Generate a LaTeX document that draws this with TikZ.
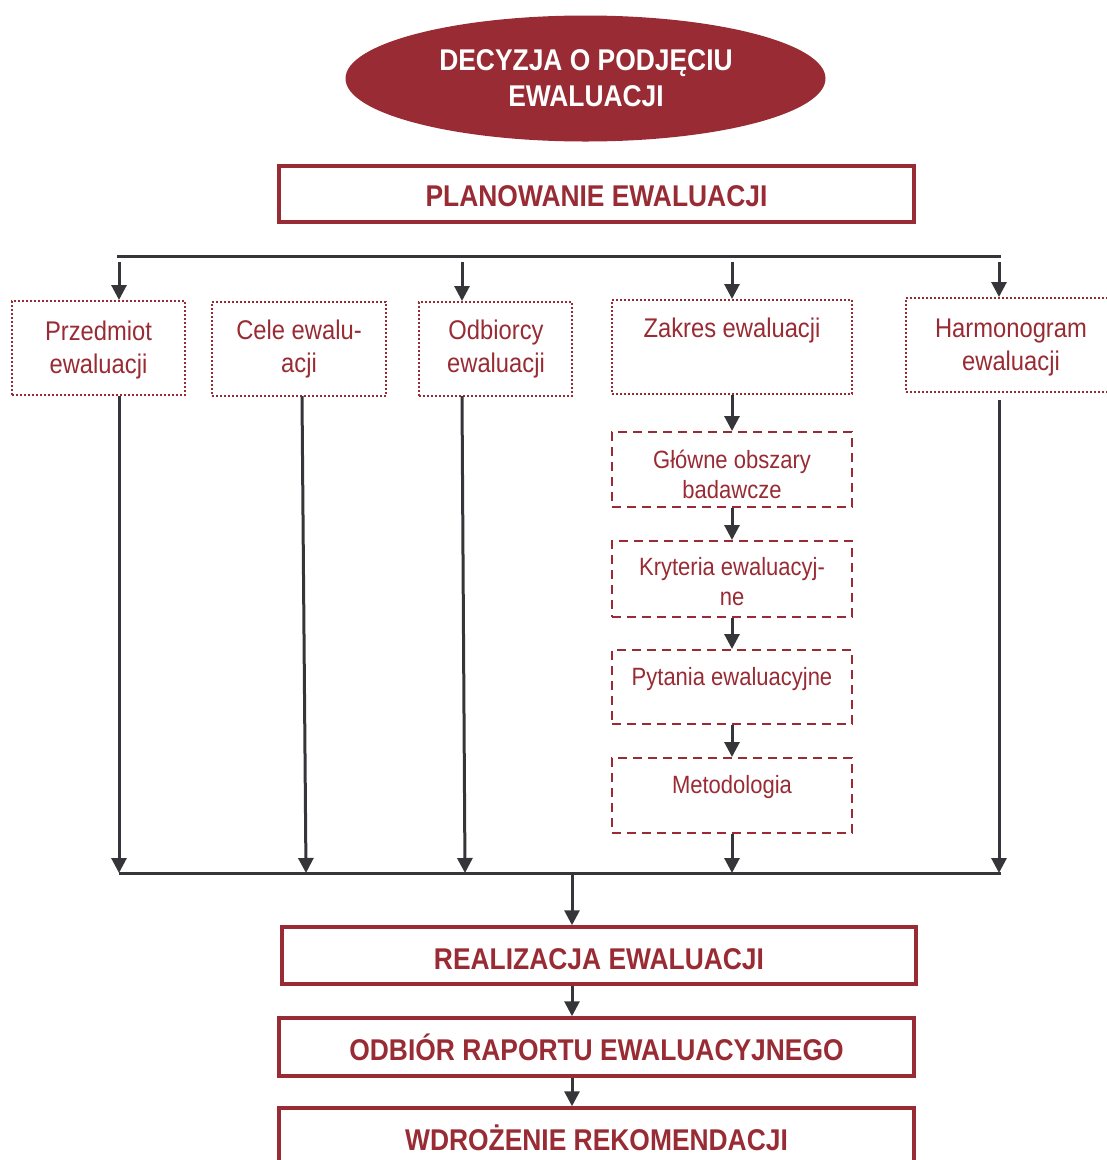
\documentclass[tikz,border=0pt]{standalone}
\usepackage{fontspec}
\setmainfont{Liberation Sans}[FakeStretch=0.88]
\usetikzlibrary{arrows.meta}
\definecolor{wine}{RGB}{152,43,51}
\definecolor{ink}{RGB}{54,54,58}
\tikzset{
  conn/.style={draw=ink, line width=3pt},
  arr/.style={conn, -{Triangle[length=15pt,width=15pt]}},
  stagebox/.style={draw=wine, line width=3.5pt, rectangle, inner sep=0pt},
  topicbox/.style={draw=wine, line width=2pt, dash pattern=on 2pt off 2pt, rectangle, inner sep=0pt},
  partbox/.style={draw=wine, line width=2pt, dash pattern=on 9pt off 6pt, rectangle, inner sep=0pt},
  stagetxt/.style={text=wine, font=\fontsize{30}{36}\selectfont\bfseries, anchor=base, inner sep=0pt},
  topictxt/.style={text=wine, font=\fontsize{27}{33}\selectfont, align=center, anchor=base, inner sep=0pt},
  parttxt/.style={text=wine, font=\fontsize{25}{29.5}\selectfont, align=center, anchor=base, inner sep=0pt},
}
\begin{document}
\begin{tikzpicture}[x=1pt,y=-1pt]
\useasboundingbox (0,0) rectangle (1107,1160);

% decision ellipse (multi-line labels are anchored at their last baseline)
\fill[wine] (585.5,78.5) ellipse [x radius=240, y radius=63];
\node[stagetxt, text=white, align=center] (decision) at (586,106) {DECYZJA O PODJĘCIU\\EWALUACJI};

% planning stage
\node[stagebox, minimum width=635pt, minimum height=56pt] (plan) at (596.5,194) {};
\node[stagetxt] (plan-t) at (596.5,206.5) {PLANOWANIE EWALUACJI};

% distribution bar
\coordinate (tl) at (117,256);
\coordinate (tr) at (1001,256);
\draw[conn] (tl) -- (tr);

% planning topics
\node[topicbox, minimum width=173pt, minimum height=94pt] (subj) at (98.5,348) {};
\node[topicbox, minimum width=174pt, minimum height=94pt] (goals) at (299,349) {};
\node[topicbox, minimum width=153pt, minimum height=94pt] (aud) at (495.5,349) {};
\node[topicbox, minimum width=240pt, minimum height=94pt] (scope) at (732,347) {};
\node[topicbox, minimum width=206pt, minimum height=94pt] (sched) at (1009,345) {};

\node[topictxt] (subj-t) at (98.5,373) {Przedmiot\\ewaluacji};
\node[topictxt] (goals-t) at (299,372.5) {Cele ewalu-\\acji};
\node[topictxt] (aud-t) at (496,372.5) {Odbiorcy\\ewaluacji};
\node[topictxt] (scope-t) at (732,337.5) {Zakres ewaluacji};
\node[topictxt] (sched-t) at (1011,370) {Harmonogram\\ewaluacji};

% arrows from the bar
\coordinate (d1) at (119,262);
\coordinate (d3) at (462,262);
\coordinate (d4) at (732,262);
\coordinate (d5) at (999,262);
\draw[arr] (d1) -- (d1 |- subj.north);
\draw[arr] (d3) -- (d3 |- aud.north);
\draw[arr] (d4) -- (scope.north);
\draw[arr] (d5) -- (d5 |- sched.north);

% scope breakdown
\node[partbox, minimum width=240pt, minimum height=75pt] (areas) at (732,469.5) {};
\node[partbox, minimum width=240pt, minimum height=76pt] (crit) at (732,579) {};
\node[partbox, minimum width=240pt, minimum height=74pt] (quest) at (732,687) {};
\node[partbox, minimum width=240pt, minimum height=75pt] (meth) at (732,795.5) {};

\begin{scope}
  \clip (612,432) rectangle (852,498.5);
  \node[parttxt] (areas-t) at (732,498) {Główne obszary\\badawcze};
\end{scope}
\node[parttxt] (crit-t) at (732,605) {Kryteria ewaluacyj-\\ne};
\node[parttxt] (quest-t) at (732,685) {Pytania ewaluacyjne};
\node[parttxt] (meth-t) at (732,793) {Metodologia};

\draw[arr] (scope.south) -- (areas.north);
\draw[arr] (areas.south) -- (crit.north);
\draw[arr] (crit.south) -- (quest.north);
\draw[arr] (quest.south) -- (meth.north);

% collecting bar
\coordinate (bl) at (119,873);
\coordinate (br) at (1001,873);
\draw[conn] (bl) -- (br);

\coordinate (u1) at (119,873);
\coordinate (u2) at (306,873);
\coordinate (u3) at (465,873);
\coordinate (u5) at (999,873);
\draw[arr] (u1 |- subj.south) -- (u1);
\draw[arr] (302,396) -- (u2);
\draw[arr] (462,396) -- (u3);
\draw[arr] (meth.south) -- (meth.south |- bl);
\draw[arr] (999,400) -- (u5);

% implementation stages
\node[stagebox, minimum width=634pt, minimum height=57pt] (real) at (599,955.5) {};
\node[stagetxt] (real-t) at (599,969) {REALIZACJA EWALUACJI};
\node[stagebox, minimum width=635pt, minimum height=58pt] (rep) at (596.5,1047) {};
\node[stagetxt] (rep-t) at (596.5,1060) {ODBIÓR RAPORTU EWALUACYJNEGO};
\node[stagebox, minimum width=635pt, minimum height=62pt] (impl) at (596.5,1139) {};
\node[stagetxt] (impl-t) at (596.5,1150) {WDROŻENIE REKOMENDACJI};

\coordinate (m0) at (572,873);
\draw[arr] (m0) -- (m0 |- real.north);
\draw[arr] (m0 |- real.south) -- (m0 |- rep.north);
\draw[arr] (m0 |- rep.south) -- (m0 |- impl.north);
\end{tikzpicture}
\end{document}
